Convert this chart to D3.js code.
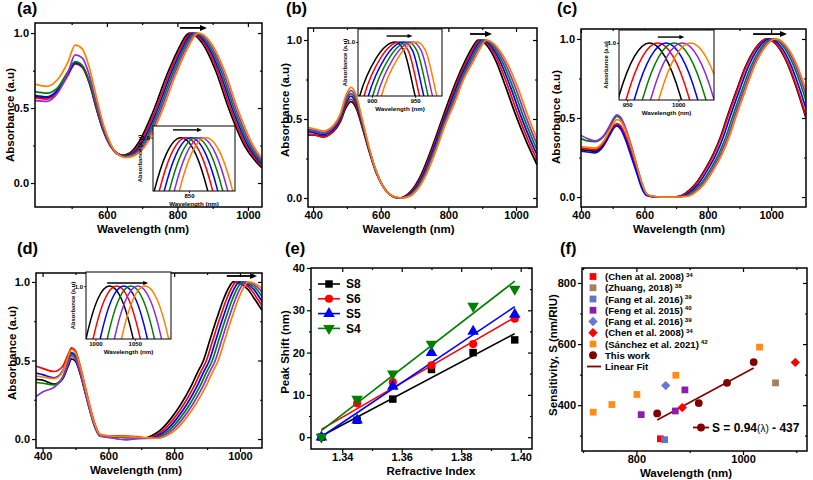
<!DOCTYPE html>
<html><head><meta charset="utf-8">
<script src="https://cdn.jsdelivr.net/npm/d3@7/dist/d3.min.js"></script>
<style>
html,body{margin:0;padding:0;background:#fff;}
svg text{font-family:"Liberation Sans",Arial,Helvetica,sans-serif;font-weight:bold;fill:#000;}
</style></head><body>
<svg id="fig" width="813" height="480" viewBox="0 0 813 480"></svg>
<script>
// ================= DATA =================
const seriesColors = ["#000000","#ff0000","#0000ff","#008000","#8b2be2","#ff8000"];

// tick labels
const wlTicksA = [600,800,1000];
const wlTicks = [400,600,800,1000];
const wlMinor = [500,700,900];
const absTicks = [0,0.5,1.0];
const absMinor = [0.25,0.75];
const insetTicksA = [850], insetTicksB = [900,950], insetTicksC = [950,1000], insetTicksD = [1000,1050];
const riTicks = [1.34,1.36,1.38,1.40], riMinor = [1.35,1.37,1.39];
const shiftTicks = [0,10,20,30,40], shiftMinor = [5,15,25,35];
const fXTicks = [800,1000], fXMinor = [700,900,1100];
const fYTicks = [400,600,800], fYMinor = [300,500,700];

// (a) spectra [wavelength nm, absorbance]
const specA = [
 [[396,.58],[430,.57],[460,.615],[490,.73],[510,.80],[530,.775],[550,.67],[570,.50],[590,.35],[610,.25],[628,.20],[645,.185],[665,.20],[690,.27],[730,.47],[770,.72],[800,.88],[835,1.0],[870,.935],[910,.74],[945,.50],[990,.25],[1040,.10]],
 [[396,.57],[430,.56],[460,.605],[490,.72],[510,.795],[530,.77],[550,.665],[570,.495],[590,.345],[610,.245],[628,.198],[647,.182],[670,.20],[695,.27],[735,.47],[775,.72],[805,.88],[840,1.0],[875,.935],[915,.74],[950,.50],[995,.25],[1045,.10]],
 [[396,.585],[430,.575],[460,.62],[490,.735],[510,.80],[530,.78],[550,.675],[570,.505],[590,.35],[610,.25],[628,.20],[649,.18],[675,.20],[700,.27],[740,.47],[780,.72],[810,.88],[845,1.0],[880,.935],[920,.74],[955,.50],[1000,.25],[1050,.10]],
 [[396,.61],[430,.60],[460,.635],[490,.745],[510,.81],[530,.785],[550,.68],[570,.51],[590,.355],[610,.25],[628,.197],[651,.178],[680,.20],[705,.27],[745,.47],[785,.72],[815,.88],[850,1.0],[885,.935],[925,.74],[960,.50],[1005,.25],[1055,.10]],
 [[396,.55],[430,.545],[460,.60],[490,.74],[510,.855],[530,.835],[550,.72],[570,.535],[590,.37],[610,.255],[628,.195],[653,.173],[685,.20],[710,.27],[750,.47],[790,.72],[820,.88],[855,1.0],[890,.935],[930,.74],[965,.50],[1010,.25],[1060,.10]],
 [[396,.66],[430,.645],[460,.69],[490,.81],[510,.92],[530,.895],[550,.77],[570,.575],[590,.39],[610,.265],[628,.20],[655,.17],[690,.20],[715,.27],[755,.47],[795,.72],[825,.88],[860,1.0],[895,.935],[935,.74],[970,.50],[1015,.25],[1065,.10]]
];
const insetA = [
 [[797,.89],[812,.949],[827,.987],[842,1],[857,.987],[872,.949],[887,.89]],
 [[802,.89],[817,.949],[832,.987],[847,1],[862,.987],[877,.949],[892,.89]],
 [[807,.89],[822,.949],[837,.987],[852,1],[867,.987],[882,.949],[897,.89]],
 [[812,.89],[827,.949],[842,.987],[857,1],[872,.987],[887,.949],[902,.89]],
 [[817,.89],[832,.949],[847,.987],[862,1],[877,.987],[892,.949],[907,.89]],
 [[822,.89],[837,.949],[852,.987],[867,1],[882,.987],[897,.949],[912,.89]]
];
// (b)
const specB = [
 [[385,.40],[400,.40],[430,.39],[460,.42],[480,.48],[498,.575],[512,.61],[526,.575],[545,.45],[565,.30],[585,.17],[605,.08],[628,.02],[650,0],[670,.01],[690,.045],[720,.15],[750,.31],[775,.46],[800,.61],[825,.75],[850,.87],[870,.95],[888,1.0],[910,.975],[940,.87],[970,.70],[1000,.52],[1030,.36],[1062,.21]],
 [[385,.405],[400,.403],[430,.385],[460,.425],[480,.49],[498,.59],[512,.625],[526,.59],[545,.46],[565,.305],[585,.17],[605,.08],[628,.02],[652,0],[673,.01],[693,.045],[723,.15],[753,.31],[778,.46],[804,.61],[829,.75],[855,.87],[875,.95],[893,1.0],[915,.975],[946,.87],[977,.70],[1007,.52],[1037,.36],[1069,.21]],
 [[385,.42],[400,.415],[430,.40],[460,.435],[480,.50],[498,.605],[512,.645],[526,.605],[545,.47],[565,.31],[585,.175],[605,.08],[628,.02],[654,0],[676,.01],[696,.045],[726,.15],[756,.31],[781,.46],[808,.61],[833,.75],[860,.87],[880,.95],[898,1.0],[920,.975],[952,.87],[984,.70],[1014,.52],[1044,.36],[1076,.21]],
 [[385,.43],[400,.425],[430,.41],[460,.445],[480,.51],[498,.62],[512,.66],[526,.62],[545,.48],[565,.315],[585,.175],[605,.08],[628,.02],[656,0],[679,.01],[699,.045],[729,.15],[759,.31],[784,.46],[812,.61],[837,.75],[865,.87],[885,.95],[903,1.0],[925,.975],[958,.87],[991,.70],[1021,.52],[1051,.36],[1083,.21]],
 [[385,.435],[400,.43],[430,.415],[460,.45],[480,.52],[498,.635],[512,.68],[526,.64],[545,.49],[565,.32],[585,.18],[605,.08],[628,.02],[658,0],[682,.01],[702,.045],[732,.15],[762,.31],[787,.46],[816,.61],[841,.75],[870,.87],[890,.95],[908,1.0],[930,.975],[964,.87],[998,.70],[1028,.52],[1058,.36],[1090,.21]],
 [[385,.445],[400,.44],[430,.425],[460,.46],[480,.53],[498,.655],[512,.70],[526,.66],[545,.50],[565,.325],[585,.18],[605,.08],[628,.02],[660,0],[685,.01],[705,.045],[735,.15],[765,.31],[790,.46],[820,.61],[845,.75],[875,.87],[895,.95],[913,1.0],[935,.975],[970,.87],[1005,.70],[1035,.52],[1065,.36],[1097,.21]]
];
const insetB = [
 [[872,.90],[886,.95],[905,.985],[927,1],[937,.992],[950,.95],[962,.91]],
 [[877,.90],[891,.95],[910,.985],[932,1],[942,.992],[955,.95],[967,.91]],
 [[882,.90],[896,.95],[915,.985],[937,1],[947,.992],[960,.95],[972,.91]],
 [[887,.90],[901,.95],[920,.985],[942,1],[952,.992],[965,.95],[977,.91]],
 [[892,.90],[906,.95],[925,.985],[947,1],[957,.992],[970,.95],[982,.91]],
 [[897,.90],[911,.95],[930,.985],[952,1],[962,.992],[975,.95],[987,.91]]
];
// (c)
const specC = [
 [[400,.30],[420,.295],[444,.29],[470,.33],[490,.40],[505,.445],[513,.455],[525,.44],[540,.38],[558,.28],[576,.17],[592,.07],[607,.015],[625,.003],[650,0],[690,0],[710,.005],[730,.025],[760,.08],[790,.17],[817,.27],[840,.38],[860,.50],[890,.67],[920,.83],[950,.94],[986,1.0],[1020,.955],[1050,.85],[1080,.69],[1110,.50]],
 [[400,.31],[420,.305],[444,.30],[470,.34],[490,.41],[505,.455],[513,.465],[525,.45],[540,.39],[558,.29],[576,.175],[592,.075],[607,.017],[625,.003],[650,0],[690,0],[712,.005],[732,.025],[762,.08],[792,.17],[819,.27],[842,.38],[862,.50],[892,.67],[922,.83],[952,.94],[988,1.0],[1022,.955],[1052,.85],[1082,.69],[1112,.50]],
 [[400,.29],[420,.285],[444,.28],[470,.32],[490,.39],[505,.44],[513,.45],[525,.43],[540,.365],[558,.26],[576,.15],[592,.055],[607,.01],[625,.002],[650,0],[690,0],[719,.005],[739,.025],[769,.08],[799,.17],[826,.27],[849,.38],[869,.50],[899,.67],[929,.83],[959,.94],[995,1.0],[1029,.955],[1059,.85],[1089,.69],[1119,.50]],
 [[400,.37],[420,.355],[444,.35],[470,.38],[490,.44],[505,.495],[513,.51],[525,.495],[540,.43],[558,.32],[576,.195],[592,.085],[607,.02],[625,.004],[650,0],[690,0],[727,.005],[747,.025],[777,.08],[807,.17],[834,.27],[857,.38],[877,.50],[907,.67],[937,.83],[967,.94],[1003,1.0],[1037,.955],[1067,.85],[1097,.69],[1127,.50]],
 [[400,.39],[420,.37],[444,.355],[470,.385],[490,.45],[505,.505],[513,.52],[525,.505],[540,.44],[558,.33],[576,.20],[592,.09],[607,.02],[625,.004],[650,0],[690,0],[733,.005],[753,.025],[783,.08],[813,.17],[840,.27],[863,.38],[883,.50],[913,.67],[943,.83],[973,.94],[1009,1.0],[1043,.955],[1073,.85],[1103,.69],[1133,.50]],
 [[400,.32],[420,.315],[444,.31],[470,.35],[490,.42],[505,.475],[513,.49],[525,.48],[540,.425],[558,.32],[576,.20],[592,.09],[607,.022],[625,.005],[650,0],[690,0],[738,.005],[758,.025],[788,.08],[818,.17],[845,.27],[868,.38],[888,.50],[918,.67],[948,.83],[978,.94],[1014,1.0],[1048,.955],[1078,.85],[1108,.69],[1138,.50]]
];
const insetC = [
 [[927,.914],[942,.961],[957,.99],[972,1],[987,.99],[1002,.961],[1017,.914]],
 [[935,.914],[950,.961],[965,.99],[980,1],[995,.99],[1010,.961],[1025,.914]],
 [[943,.914],[958,.961],[973,.99],[988,1],[1003,.99],[1018,.961],[1033,.914]],
 [[951,.914],[966,.961],[981,.99],[996,1],[1011,.99],[1026,.961],[1041,.914]],
 [[959,.914],[974,.961],[989,.99],[1004,1],[1019,.99],[1034,.961],[1049,.914]],
 [[967,.914],[982,.961],[997,.99],[1012,1],[1027,.99],[1042,.961],[1057,.914]]
];
// (d)
const specD = [
 [[380,.38],[400,.375],[435,.35],[460,.38],[478,.465],[488,.51],[500,.495],[515,.41],[530,.29],[545,.17],[560,.07],[574,.02],[600,.015],[630,.012],[660,.01],[690,.01],[706,.005],[730,.02],[760,.06],[790,.13],[820,.22],[850,.33],[870,.42],[889,.50],[910,.64],[930,.77],[950,.89],[965,.96],[980,1.0],[1000,.99],[1025,.95],[1045,.89],[1067,.82]],
 [[380,.465],[400,.45],[435,.43],[460,.46],[478,.54],[488,.58],[500,.56],[515,.46],[530,.33],[545,.20],[560,.09],[574,.03],[600,.02],[630,.02],[660,.018],[690,.015],[715,.005],[739,.02],[769,.06],[799,.13],[829,.22],[859,.33],[879,.42],[898,.50],[919,.64],[939,.77],[959,.89],[974,.96],[989,1.0],[1009,.99],[1034,.95],[1054,.89],[1076,.82]],
 [[380,.42],[400,.41],[435,.39],[460,.43],[478,.515],[488,.55],[500,.53],[515,.44],[530,.31],[545,.185],[560,.08],[574,.025],[600,.015],[630,.012],[660,.01],[690,.01],[724,.005],[748,.02],[778,.06],[808,.13],[838,.22],[868,.33],[888,.42],[907,.50],[928,.64],[948,.77],[968,.89],[983,.96],[998,1.0],[1018,.99],[1043,.95],[1063,.89],[1085,.82]],
 [[380,.36],[400,.355],[435,.345],[460,.39],[478,.49],[488,.54],[500,.52],[515,.43],[530,.30],[545,.18],[560,.08],[574,.025],[600,.015],[630,.012],[660,.01],[690,.01],[733,.005],[757,.02],[787,.06],[817,.13],[847,.22],[877,.33],[897,.42],[916,.50],[937,.64],[957,.77],[977,.89],[992,.96],[1007,1.0],[1027,.99],[1052,.95],[1072,.89],[1094,.82]],
 [[380,.27],[400,.30],[435,.33],[460,.385],[478,.48],[488,.53],[500,.51],[515,.42],[530,.295],[545,.175],[560,.075],[574,.02],[600,.01],[630,0],[655,-.005],[690,.003],[742,.005],[766,.02],[796,.06],[826,.13],[856,.22],[886,.33],[906,.42],[925,.50],[946,.64],[966,.77],[986,.89],[1001,.96],[1016,1.0],[1036,.99],[1061,.95],[1081,.89],[1103,.82]],
 [[380,.40],[400,.395],[435,.385],[460,.425],[478,.525],[488,.57],[500,.55],[515,.455],[530,.325],[545,.195],[560,.09],[574,.03],[600,.02],[630,.017],[660,.015],[690,.012],[751,.005],[775,.02],[805,.06],[835,.13],[865,.22],[895,.33],[915,.42],[934,.50],[955,.64],[975,.77],[995,.89],[1010,.96],[1025,1.0],[1045,.99],[1070,.95],[1090,.89],[1112,.82]]
];
const insetD = [
 [[973,.90],[988,.955],[1003,.989],[1018,1],[1033,.989],[1048,.955],[1063,.90]],
 [[982,.90],[997,.955],[1012,.989],[1027,1],[1042,.989],[1057,.955],[1072,.90]],
 [[991,.90],[1006,.955],[1021,.989],[1036,1],[1051,.989],[1066,.955],[1081,.90]],
 [[1000,.90],[1015,.955],[1030,.989],[1045,1],[1060,.989],[1075,.955],[1090,.90]],
 [[1009,.90],[1024,.955],[1039,.989],[1054,1],[1069,.989],[1084,.955],[1099,.90]],
 [[1018,.90],[1033,.955],[1048,.989],[1063,1],[1078,.989],[1093,.955],[1108,.90]]
];
// shift arrows [from nm, to nm, absorbance]
const arrowMainA = [807,884,1.034], arrowInsetA = [834,863,1.006];
const arrowMainB = [864,929,1.038], arrowInsetB = [917,947,1.0055];
const arrowMainC = [943,1050,1.031], arrowInsetC = [980,1006,1.0044];
const arrowMainD = [960,1052,1.038], arrowInsetD = [1015,1067,1.0026];

// (e) peak shift vs refractive index
const riX = [1.333,1.345,1.357,1.370,1.384,1.398];
const eNames = ["S8","S6","S5","S4"];
const eColors = ["#000000","#ff0000","#0000ff","#008000"];
const shiftS8 = [0,4,9,16,20,23];
const shiftS6 = [0,8,13,17,22,28];
const shiftS5 = [0,4,12,20,25,29];
const shiftS4 = [0,9,15,22,31,35];

// (f) sensitivity vs wavelength
const fNames = ["(Chen at al. 2008)","(Zhuang, 2018)","(Fang et al. 2016)","(Feng et al. 2015)","(Fang et al. 2016)","(Chen et al. 2008)","(Sánchez et al. 2021)","This work","Linear Fit"];
const fRefs = ["34","38","39","40","39","34","42","",""];
const fColors = ["#ff0000","#a5805e","#5b79c0","#8b1fa9","#6878d0","#ff0000","#ff8c1a","#800000","#800000"];
const fChenSq = [[845,290]];
const fZhuang = [[1061,473]];
const fFangSq = [[853,287]];
const fFeng = [[809,369],[873,381],[891,450]];
const fFangDia = [[855,464]];
const fChenDia = [[886,392],[1098,540]];
const fSanchez = [[719,377],[754,402],[801,435],[874,498],[1031,590]];
const fThisWork = [[839,373],[917,407],[970,473],[1020,541]];
const fFitSlope = 0.94, fFitIntercept = -437;

// ================= LAYOUT =================
const PA = {x0:35,x1:262,y0:23,y1:207,xd:[396,1040],yd:[-0.16,1.067]};
const PB = {x0:308,x1:537,y0:28,y1:207,xd:[385,1062],yd:[-0.057,1.076]};
const PC = {x0:581,x1:806,y0:29,y1:207,xd:[400,1110],yd:[-0.063,1.063]};
const PD = {x0:36,x1:262,y0:273,y1:448,xd:[380,1067],yd:[-0.057,1.057]};
const PE = {x0:311,x1:532,y0:268,y1:449,xd:[1.3295,1.4038],yd:[-2.8,40]};
const PF = {x0:582,x1:807,y0:268,y1:451,xd:[698,1120],yd:[250,849]};
const IA = {x0:153,x1:235,y0:126,y1:191,xd:[814,896],yd:[0.959,1.009]};
const IB = {x0:358,x1:442,y0:29,y1:96,xd:[884,981],yd:[0.95,1.012]};
const IC = {x0:619,x1:714,y0:30,y1:100,xd:[942,1035],yd:[0.958,1.0096]};
const ID = {x0:86,x1:171,y0:272,y1:339,xd:[988,1096],yd:[0.955,1.012]};
const TICK_FS = 11, TITLE_FS = 11.5;

const svg = d3.select("#fig");
svg.append("rect").attr("width",813).attr("height",480).attr("fill","#fff");
const defs = svg.append("defs");
let clipN = 0;
function clip(P){
  const id = "clip"+(clipN++);
  defs.append("clipPath").attr("id",id).append("rect")
    .attr("x",P.x0).attr("y",P.y0).attr("width",P.x1-P.x0).attr("height",P.y1-P.y0);
  return `url(#${id})`;
}
function clean(sel){ sel.select(".domain").remove(); sel.attr("font-family",null); }

function axes(g, x, y, P, o){
  const ts = 4, ms = 2;
  const b = g.append("g").attr("transform",`translate(0,${P.y1})`)
    .call(d3.axisBottom(x).tickValues(o.xt).tickSize(ts).tickPadding(o.xpad==null?0:o.xpad).tickFormat(o.xf)).call(clean);
  b.attr("font-size",TICK_FS);
  g.append("g").attr("transform",`translate(0,${P.y1})`)
    .call(d3.axisBottom(x).tickValues(o.xm).tickSize(ms).tickFormat("")).call(clean);
  const l = g.append("g").attr("transform",`translate(${P.x0},0)`)
    .call(d3.axisLeft(y).tickValues(o.yt).tickSize(ts).tickPadding(2).tickFormat(o.yf)).call(clean);
  l.attr("font-size",TICK_FS);
  g.append("g").attr("transform",`translate(${P.x0},0)`)
    .call(d3.axisLeft(y).tickValues(o.ym).tickSize(ms).tickFormat("")).call(clean);
  // mirrored ticks on top / right, pointing inward
  g.append("g").attr("transform",`translate(0,${P.y0})`)
    .call(d3.axisBottom(x).tickValues(o.xt).tickSize(ts).tickFormat("")).call(clean);
  g.append("g").attr("transform",`translate(0,${P.y0})`)
    .call(d3.axisBottom(x).tickValues(o.xm).tickSize(ms).tickFormat("")).call(clean);
  g.append("g").attr("transform",`translate(${P.x1},0)`)
    .call(d3.axisLeft(y).tickValues(o.yt).tickSize(ts).tickFormat("")).call(clean);
  g.append("g").attr("transform",`translate(${P.x1},0)`)
    .call(d3.axisLeft(y).tickValues(o.ym).tickSize(ms).tickFormat("")).call(clean);
  g.selectAll(".tick line").attr("stroke","#000").attr("stroke-width",1.2);
  g.append("rect").attr("x",P.x0).attr("y",P.y0).attr("width",P.x1-P.x0).attr("height",P.y1-P.y0)
    .attr("fill","none").attr("stroke","#000").attr("stroke-width",1.5);
}

function titles(g, t){
  g.append("text").attr("x",t.lab[0]).attr("y",t.lab[1]).attr("font-size",16.5).text(t.letter);
  g.append("text").attr("x",t.xt[0]).attr("y",t.xt[1]).attr("text-anchor","middle").attr("font-size",TITLE_FS).text(t.xtitle);
  g.append("text").attr("transform",`translate(${t.yt[0]},${t.yt[1]}) rotate(-90)`).attr("text-anchor","middle").attr("font-size",TITLE_FS).text(t.ytitle);
}

function arrow(g, x1, x2, yy, w, head){
  g.append("line").attr("x1",x1).attr("x2",x2-head+1).attr("y1",yy).attr("y2",yy).attr("stroke","#000").attr("stroke-width",w);
  g.append("path").attr("d",`M${x2},${yy}L${x2-head},${yy-head*0.42}L${x2-head},${yy+head*0.42}Z`).attr("fill","#000");
}

const fmt1 = d3.format(".1f");
function spectrumPanel(P, I, spec, inset, xticks, iticks, arrM, arrI, t){
  const g = svg.append("g");
  const x = d3.scaleLinear().domain(P.xd).range([P.x0,P.x1]);
  const y = d3.scaleLinear().domain(P.yd).range([P.y1,P.y0]);
  const line = d3.line().x(d=>x(d[0])).y(d=>y(d[1])).curve(d3.curveMonotoneX);
  g.append("g").attr("clip-path",clip(P)).selectAll("path").data(spec).join("path")
    .attr("d",line).attr("fill","none").attr("stroke",(d,i)=>seriesColors[i]).attr("stroke-width",1.7);
  axes(g,x,y,P,{xt:xticks,xm:wlMinor,yt:absTicks,ym:absMinor,xf:d3.format("d"),yf:fmt1});
  arrow(g, x(arrM[0]), x(arrM[1]), y(arrM[2]), 1.8, 7);
  titles(g,t);
  // inset
  const ix = d3.scaleLinear().domain(I.xd).range([I.x0,I.x1]);
  const iy = d3.scaleLinear().domain(I.yd).range([I.y1,I.y0]);
  const il = d3.line().x(d=>ix(d[0])).y(d=>iy(d[1])).curve(d3.curveMonotoneX);
  const ig = svg.append("g");
  ig.append("rect").attr("x",I.x0).attr("y",I.y0).attr("width",I.x1-I.x0).attr("height",I.y1-I.y0).attr("fill","#fff");
  ig.append("g").attr("clip-path",clip(I)).selectAll("path").data(inset).join("path")
    .attr("d",il).attr("fill","none").attr("stroke",(d,i)=>seriesColors[i]).attr("stroke-width",1.5);
  ig.append("rect").attr("x",I.x0).attr("y",I.y0).attr("width",I.x1-I.x0).attr("height",I.y1-I.y0)
    .attr("fill","none").attr("stroke","#000").attr("stroke-width",1);
  const bx = ig.append("g").attr("transform",`translate(0,${I.y1})`)
    .call(d3.axisBottom(ix).tickValues(iticks).tickSize(2).tickPadding(0.5).tickFormat(d3.format("d"))).call(clean);
  bx.attr("font-size",6);
  const ly = ig.append("g").attr("transform",`translate(${I.x0},0)`)
    .call(d3.axisLeft(iy).tickValues([1.0]).tickSize(2).tickPadding(1).tickFormat(fmt1)).call(clean);
  ly.attr("font-size",6);
  ig.selectAll(".tick line").attr("stroke","#000").attr("stroke-width",0.8);
  ig.append("text").attr("x",(I.x0+I.x1)/2).attr("y",I.y1+15).attr("text-anchor","middle").attr("font-size",6.2).text("Wavelength (nm)");
  ig.append("text").attr("transform",`translate(${I.x0-11},${(I.y0+I.y1)/2}) rotate(-90)`).attr("text-anchor","middle").attr("font-size",5.8).text("Absorbance (a.u)");
  arrow(ig, ix(arrI[0]), ix(arrI[1]), iy(arrI[2]), 1.4, 5);
}

spectrumPanel(PA, IA, specA, insetA, wlTicksA, insetTicksA, arrowMainA, arrowInsetA,
  {letter:"(a)",lab:[17,14],xt:[143,233],yt:[14,115],xtitle:"Wavelength (nm)",ytitle:"Absorbance (a.u)"});
spectrumPanel(PB, IB, specB, insetB, wlTicks, insetTicksB, arrowMainB, arrowInsetB,
  {letter:"(b)",lab:[286,14],xt:[408.5,233],yt:[289,110],xtitle:"Wavelength (nm)",ytitle:"Absorbance (a.u)"});
spectrumPanel(PC, IC, specC, insetC, wlTicks, insetTicksC, arrowMainC, arrowInsetC,
  {letter:"(c)",lab:[557,14],xt:[679,233],yt:[560,117],xtitle:"Wavelength (nm)",ytitle:"Absorbance (a.u)"});
spectrumPanel(PD, ID, specD, insetD, wlTicks, insetTicksD, arrowMainD, arrowInsetD,
  {letter:"(d)",lab:[17,254],xt:[136,474],yt:[16,353],xtitle:"Wavelength (nm)",ytitle:"Absorbance (a.u)"});

// ---------- (e) ----------
(function(){
  const P = PE;
  const g = svg.append("g");
  const x = d3.scaleLinear().domain(P.xd).range([P.x0,P.x1]);
  const y = d3.scaleLinear().domain(P.yd).range([P.y1,P.y0]);
  const sets = [shiftS8, shiftS6, shiftS5, shiftS4];
  const syms = [d3.symbolSquare, d3.symbolCircle, d3.symbolTriangle, d3.symbolTriangle];
  const sizes = [56, 52, 58, 58];
  const rots = [0,0,0,180];
  const mx = d3.mean(riX);
  sets.forEach((ys,k)=>{
    const my = d3.mean(ys);
    const sxy = d3.sum(riX,(v,i)=>(v-mx)*(ys[i]-my));
    const sxx = d3.sum(riX,v=>(v-mx)*(v-mx));
    const m = sxy/sxx, b = my - m*mx;
    const xa = riX[0], xb = riX[riX.length-1];
    g.append("line").attr("x1",x(xa)).attr("y1",y(m*xa+b)).attr("x2",x(xb)).attr("y2",y(m*xb+b))
      .attr("stroke",eColors[k]).attr("stroke-width",1.6);
  });
  sets.forEach((ys,k)=>{
    g.append("g").selectAll("path").data(ys).join("path")
      .attr("d",d3.symbol(syms[k],sizes[k]))
      .attr("transform",(d,i)=>`translate(${x(riX[i])},${y(d)}) rotate(${rots[k]})`)
      .attr("fill",eColors[k]);
  });
  axes(g,x,y,P,{xt:riTicks,xm:riMinor,yt:shiftTicks,ym:shiftMinor,xf:d3.format(".2f"),yf:d3.format("d")});
  const ly0 = 284, ldy = 14.8;
  eNames.forEach((n,k)=>{
    const yy = ly0 + k*ldy;
    g.append("line").attr("x1",318).attr("x2",340).attr("y1",yy).attr("y2",yy).attr("stroke",eColors[k]).attr("stroke-width",1.6);
    g.append("path").attr("d",d3.symbol(syms[k],sizes[k])).attr("transform",`translate(329,${yy}) rotate(${rots[k]})`).attr("fill",eColors[k]);
    g.append("text").attr("x",346).attr("y",yy+4.3).attr("font-size",12).text(n);
  });
  titles(g,{letter:"(e)",lab:[285,254],xt:[431,474.5],yt:[289,352],xtitle:"Refractive Index",ytitle:"Peak Shift (nm)"});
})();

// ---------- (f) ----------
(function(){
  const P = PF;
  const g = svg.append("g");
  const x = d3.scaleLinear().domain(P.xd).range([P.x0,P.x1]);
  const y = d3.scaleLinear().domain(P.yd).range([P.y1,P.y0]);
  const sq = d3.symbol(d3.symbolSquare, 46)();
  const dia = d3.symbol(d3.symbolSquare, 44)();
  const cir = d3.symbol(d3.symbolCircle, 48)();
  const groups = [
    {d:fChenSq, s:sq, r:0}, {d:fZhuang, s:sq, r:0}, {d:fFangSq, s:sq, r:0}, {d:fFeng, s:sq, r:0},
    {d:fFangDia, s:dia, r:45}, {d:fChenDia, s:dia, r:45}, {d:fSanchez, s:sq, r:0}
  ];
  const xa = fThisWork[0][0], xb = fThisWork[fThisWork.length-1][0];
  g.append("line").attr("x1",x(xa)).attr("y1",y(fFitSlope*xa+fFitIntercept)).attr("x2",x(xb)).attr("y2",y(fFitSlope*xb+fFitIntercept))
    .attr("stroke",fColors[8]).attr("stroke-width",1.6);
  groups.forEach((gr,k)=>{
    g.append("g").selectAll("path").data(gr.d).join("path").attr("d",gr.s)
      .attr("transform",d=>`translate(${x(d[0])},${y(d[1])}) rotate(${gr.r})`).attr("fill",fColors[k]);
  });
  g.append("g").selectAll("path").data(fThisWork).join("path").attr("d",cir)
    .attr("transform",d=>`translate(${x(d[0])},${y(d[1])})`).attr("fill",fColors[7]);
  axes(g,x,y,P,{xt:fXTicks,xm:fXMinor,yt:fYTicks,ym:fYMinor,xf:d3.format("d"),yf:d3.format("d"),xpad:0.5});
  const ly0 = 276.5, ldy = 11.25;
  fNames.forEach((n,k)=>{
    const yy = ly0 + k*ldy;
    if (k===8) {
      g.append("line").attr("x1",587).attr("x2",601).attr("y1",yy).attr("y2",yy).attr("stroke",fColors[k]).attr("stroke-width",1.8);
    } else {
      const s = k===7 ? cir : ((k===4||k===5) ? dia : sq);
      const r = (k===4||k===5) ? 45 : 0;
      g.append("path").attr("d",s).attr("transform",`translate(593,${yy}) rotate(${r})`).attr("fill",fColors[k]);
    }
    const t = g.append("text").attr("x",605).attr("y",yy+3.5).attr("font-size",9.6);
    t.append("tspan").text(n);
    if (fRefs[k]) t.append("tspan").attr("dx",2).attr("dy",-3.5).attr("font-size",6.2).text(fRefs[k]);
  });
  const ey = 427.5;
  g.append("line").attr("x1",693).attr("x2",709).attr("y1",ey).attr("y2",ey).attr("stroke",fColors[8]).attr("stroke-width",1.8);
  g.append("path").attr("d",cir).attr("transform",`translate(701,${ey})`).attr("fill",fColors[7]);
  const et = g.append("text").attr("x",712).attr("y",ey+4.5).attr("font-size",12);
  et.append("tspan").text("S = " + d3.format(".2f")(fFitSlope));
  et.append("tspan").attr("font-weight","normal").attr("font-size",10).text("(λ)");
  et.append("tspan").text(" - "+Math.abs(fFitIntercept));
  titles(g,{letter:"(f)",lab:[560,254],xt:[686,476.5],yt:[557,355],xtitle:"Wavelength (nm)",ytitle:"Sensitivity, S (nm/RIU)"});
})();
</script>
</body></html>
